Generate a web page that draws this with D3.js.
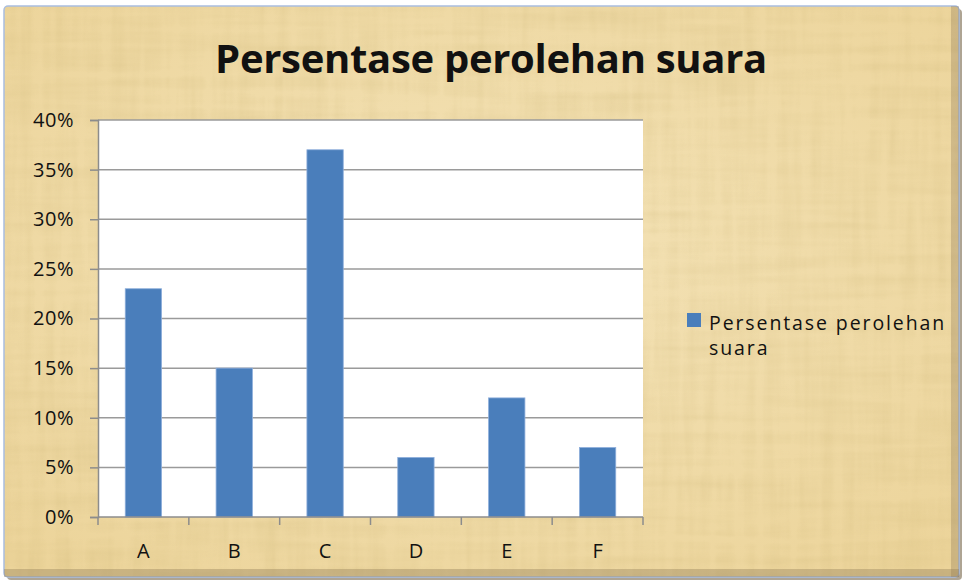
<!DOCTYPE html>
<html>
<head>
<meta charset="utf-8">
<script src="https://cdn.jsdelivr.net/npm/d3@7"></script>
<style>
  body { margin: 0; background: #fff; }
  svg { display: block; }
  text { font-family: "Open Sans", Lato, sans-serif; fill: #111; }
</style>
</head>
<body>
<div id="chart"></div>
<script>
// data
const categories = ["A", "B", "C", "D", "E", "F"];
const values = [0.23, 0.15, 0.37, 0.06, 0.12, 0.07];
const yTicks = [0, 0.05, 0.10, 0.15, 0.20, 0.25, 0.30, 0.35, 0.40];
const seriesName = "Persentase perolehan suara";
const title = "Persentase perolehan suara";

const W = 965, H = 584;
const plot = { left: 98, right: 643, top: 120, bottom: 517 };

const svg = d3.select("#chart").append("svg")
  .attr("width", W)
  .attr("height", H);

const defs = svg.append("defs");

// papyrus-ish texture: fibres running both ways
const f = defs.append("filter").attr("id", "papyrus")
  .attr("x", 0).attr("y", 0).attr("width", 1).attr("height", 1);
f.append("feTurbulence").attr("type", "fractalNoise")
  .attr("baseFrequency", "0.09 0.006").attr("numOctaves", 3).attr("seed", 4).attr("result", "v");
f.append("feTurbulence").attr("type", "fractalNoise")
  .attr("baseFrequency", "0.006 0.09").attr("numOctaves", 3).attr("seed", 9).attr("result", "h");
f.append("feComposite").attr("in", "v").attr("in2", "h")
  .attr("operator", "arithmetic").attr("k2", 0.5).attr("k3", 0.5).attr("result", "n");
f.append("feColorMatrix").attr("in", "n").attr("type", "matrix")
  .attr("values", "0 0 0 0 0.55  0 0 0 0 0.42  0 0 0 0 0.15  -0.9 0 0 0 0.55")
  .attr("result", "tint");
f.append("feComposite").attr("in", "tint").attr("in2", "SourceGraphic").attr("operator", "in");

const bg = defs.append("radialGradient").attr("id", "bgGrad")
  .attr("cx", "50%").attr("cy", "45%").attr("r", "70%");
bg.append("stop").attr("offset", "0%").attr("stop-color", "#f4e3b8");
bg.append("stop").attr("offset", "100%").attr("stop-color", "#ecd49a");

// frame
svg.append("rect")
  .attr("x", 7).attr("y", 9).attr("width", 955).attr("height", 571)
  .attr("rx", 4).attr("fill", "#6b5a3a").attr("opacity", 0.55);
svg.append("rect")
  .attr("x", 4).attr("y", 6).attr("width", 955).attr("height", 571)
  .attr("rx", 4).attr("fill", "url(#bgGrad)");
svg.append("rect")
  .attr("x", 4).attr("y", 6).attr("width", 955).attr("height", 571)
  .attr("fill", "#fff").attr("filter", "url(#papyrus)").attr("opacity", 0.55);
svg.append("rect")
  .attr("x", 4).attr("y", 6).attr("width", 955).attr("height", 571)
  .attr("rx", 4).attr("fill", "none").attr("stroke", "#a9bde0").attr("stroke-width", 1.5);
// bevel shading at the bottom and right edge
svg.append("rect")
  .attr("x", 4).attr("y", 569).attr("width", 955).attr("height", 8)
  .attr("fill", "#8a7550").attr("opacity", 0.35);
svg.append("rect")
  .attr("x", 951).attr("y", 6).attr("width", 8).attr("height", 571)
  .attr("fill", "#8a7550").attr("opacity", 0.3);

// title
svg.append("text")
  .attr("x", 491).attr("y", 73)
  .attr("text-anchor", "middle")
  .style("font-size", "40px")
  .style("font-weight", "bold")
  .style("letter-spacing", "-0.3px")
  .text(title);

// scales
const x = d3.scaleBand()
  .domain(categories)
  .range([plot.left, plot.right])
  .paddingInner(0.6)
  .paddingOuter(0.3);

const xEdge = d3.scaleLinear()
  .domain([0, categories.length])
  .range([plot.left, plot.right]);

const y = d3.scaleLinear()
  .domain([0, 0.4])
  .range([plot.bottom, plot.top]);

// plot area
svg.append("rect")
  .attr("x", plot.left).attr("y", plot.top)
  .attr("width", plot.right - plot.left)
  .attr("height", plot.bottom - plot.top)
  .attr("fill", "#fff");

// gridlines
svg.append("g")
  .selectAll("line")
  .data(yTicks.filter(d => d > 0))
  .join("line")
  .attr("x1", plot.left).attr("x2", plot.right)
  .attr("y1", d => y(d)).attr("y2", d => y(d))
  .attr("stroke", "#9a9a9a").attr("stroke-width", 1.5);

// bars
svg.append("g")
  .selectAll("rect")
  .data(values)
  .join("rect")
  .attr("x", (d, i) => x(categories[i]))
  .attr("y", d => y(d))
  .attr("width", x.bandwidth())
  .attr("height", d => y(0) - y(d))
  .attr("fill", "#4a7ebb")
  .attr("stroke", "#8eaedb")
  .attr("stroke-width", 0.8);

// y axis
const yAxis = svg.append("g")
  .attr("transform", `translate(${plot.left},0)`)
  .call(d3.axisLeft(y)
    .tickValues(yTicks)
    .tickFormat(d3.format(".0%"))
    .tickSize(8)
    .tickPadding(16));
yAxis.select(".domain").attr("stroke", "#8c8c8c").attr("stroke-width", 1.5);
yAxis.selectAll(".tick line").attr("stroke", "#8c8c8c").attr("stroke-width", 1.5);
yAxis.selectAll(".tick text")
  .style("font-size", "20px")
  .style("font-family", "'Open Sans', sans-serif")
  .style("letter-spacing", "0.5px")
  .attr("fill", "#111");

// x axis: ticks between categories
const xAxis = svg.append("g");
xAxis.append("line")
  .attr("x1", plot.left).attr("x2", plot.right)
  .attr("y1", plot.bottom).attr("y2", plot.bottom)
  .attr("stroke", "#8c8c8c").attr("stroke-width", 1.5);
xAxis.selectAll("line.tk")
  .data(d3.range(categories.length + 1))
  .join("line")
  .attr("class", "tk")
  .attr("x1", d => xEdge(d)).attr("x2", d => xEdge(d))
  .attr("y1", plot.bottom).attr("y2", plot.bottom + 8)
  .attr("stroke", "#8c8c8c").attr("stroke-width", 1.5);
xAxis.selectAll("text")
  .data(categories)
  .join("text")
  .attr("x", d => x(d) + x.bandwidth() / 2)
  .attr("y", 558)
  .attr("text-anchor", "middle")
  .style("font-size", "20px")
  .text(d => d);

// legend
const legend = svg.append("g").attr("transform", "translate(687,313)");
legend.append("rect")
  .attr("width", 14).attr("height", 14)
  .attr("fill", "#4a7ebb");
const words = seriesName.split(" ");
legend.append("text")
  .attr("x", 22).attr("y", 17)
  .style("font-size", "19.5px")
  .style("letter-spacing", "1.9px")
  .text(words.slice(0, 2).join(" "));
legend.append("text")
  .attr("x", 22).attr("y", 42)
  .style("font-size", "19.5px")
  .style("letter-spacing", "1.9px")
  .text(words.slice(2).join(" "));
</script>
</body>
</html>
